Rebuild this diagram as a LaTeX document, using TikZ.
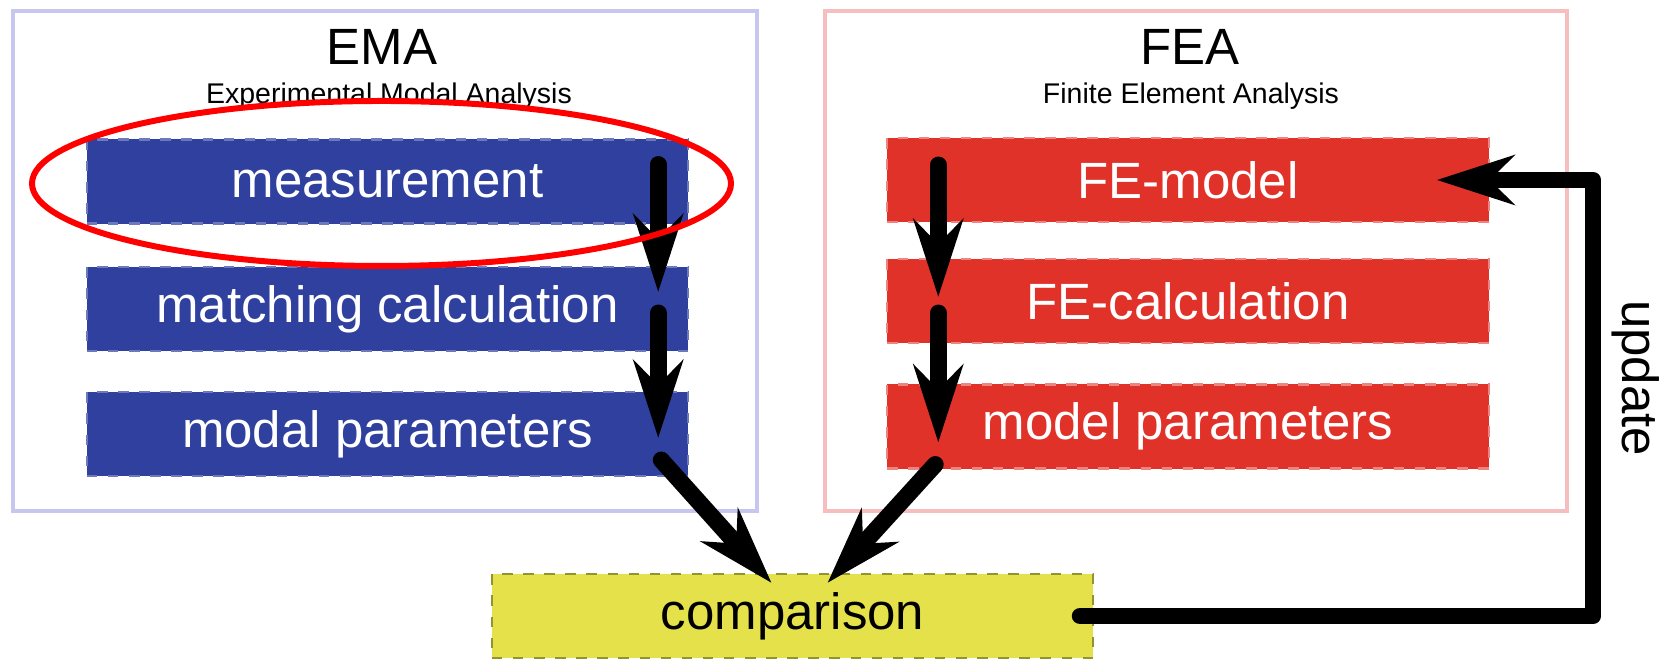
\documentclass[tikz,border=0pt]{standalone}
\usepackage{fontspec}
\setmainfont{Liberation Sans}
\usetikzlibrary{arrows.meta,calc}
\definecolor{emablue}{RGB}{47,64,158}
\definecolor{fered}{RGB}{225,50,42}
\definecolor{cmpyellow}{RGB}{229,225,74}
\definecolor{emaframe}{RGB}{198,198,238}
\definecolor{feaframe}{RGB}{246,190,190}
\tikzset{
  boxframe/.style={line width=1.2pt},
  block/.style={minimum width=6.01cm, minimum height=0.84cm, inner sep=0pt,
    text=white, font=\fontsize{14.5}{17}\selectfont, dashed, line width=0.6pt},
  flow/.style={line width=4.8pt, line cap=round, line join=round,
    -{Stealth[length=22pt,width=14pt,inset=7pt]}},
  heading/.style={anchor=base, font=\fontsize{14.5}{17}\selectfont},
  subheading/.style={anchor=base, font=\fontsize{8.1}{10}\selectfont}
}

\begin{document}
\begin{tikzpicture}[x=0.01cm, y=-0.01cm]
    \useasboundingbox (0, 0) rectangle (1665, 659);
    \draw[boxframe, emaframe] (13, 11) rectangle (757, 511);
    \draw[boxframe, feaframe] (825, 11) rectangle (1567, 511);
    \node[heading] (ema) at (382, 65) {EMA};
    \node[subheading] (emasub) at (389, 104) {Experimental Modal Analysis};
    \node[heading] (fea) at (1190, 65) {FEA};
    \node[subheading] (feasub) at (1191, 104) {Finite Element Analysis};

    \node[block, fill=emablue, draw=emablue!70!white] (meas) at (387.5, 181.5) {measurement};
    \node[block, fill=emablue, draw=emablue!70!white] (match) at (387.5, 309) {matching calculation};
    \node[block, fill=emablue, draw=emablue!70!white] (modal) at (387.5, 434) {modal parameters};
    \node[block, fill=fered, draw=fered!60!white] (femodel) at (1188, 180) {FE-model};
    \node[block, fill=fered, draw=fered!60!white] (fecalc) at (1188, 301) {FE-calculation};
    \node[block, fill=fered, draw=fered!60!white] (fepar) at (1188, 426.5) {model parameters};
    \node[block, fill=cmpyellow, draw=black!35!cmpyellow, text=black] (cmp) at (792.5, 616) {comparison};

    \draw[flow] ($(meas.east)+(-31,-17)$) -- ($(match.east)+(-31,-17)$);
    \draw[flow] ($(match.east)+(-31,4)$) -- ($(modal.east)+(-31,4)$);
    \draw[flow] ($(modal.east)+(-28,26)$) -- ($(cmp.north)+(-21,10)$);
    \draw[flow] ($(femodel.west)+(52,-15)$) -- ($(fecalc.west)+(52,-4)$);
    \draw[flow] ($(fecalc.west)+(52,12)$) -- ($(fepar.west)+(52,16)$);
    \draw[flow] ($(fepar.west)+(49,38)$) -- ($(cmp.north)+(35,10)$);

    \coordinate (updcorner) at (1593, 180);
    \draw[flow] ($(cmp.east)+(-14,0)$) -| (updcorner) -- ($(femodel.east)+(-53,0)$);
    \node[rotate=-90, font=\fontsize{14.5}{17}\selectfont] (upd) at (1636, 378) {update};

    \draw[red, line width=1.7pt] (381.5, 183.5) ellipse (349.5 and 82.5);
\end{tikzpicture}
\end{document}
